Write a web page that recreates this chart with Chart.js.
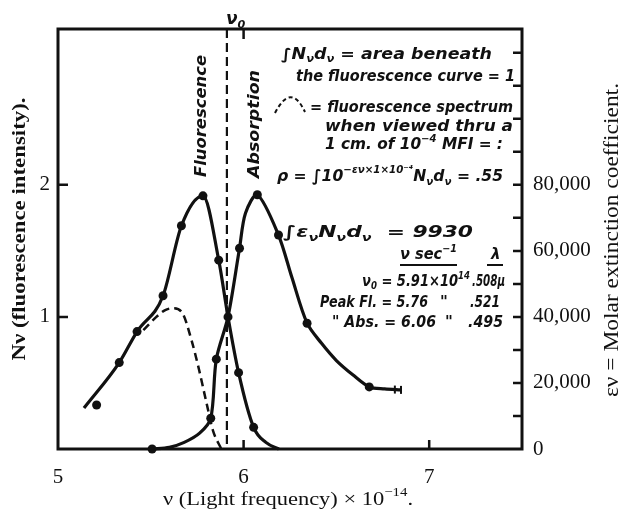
<!DOCTYPE html>
<html>
<head>
<meta charset="utf-8">
<script src="https://cdn.jsdelivr.net/npm/chart.js@4.4.1/dist/chart.umd.min.js"></script>
<style>
  html, body { margin: 0; padding: 0; background: #fff; }
  #wrap { width: 622px; height: 511px; }
</style>
</head>
<body>
<div id="wrap"><canvas id="myChart" width="622" height="511"></canvas></div>
<script>
// Valores (frequência em unidades de 10^14)
const flCurveX = [5.14, 5.33, 5.426, 5.566, 5.665, 5.781, 5.866, 5.916, 5.973, 6.054, 6.12, 6.19];
const flCurveY = [0.31, 0.654, 0.889, 1.16, 1.69, 1.917, 1.43, 1.0, 0.578, 0.164, 0.05, 0];
const flDotX = [5.208, 5.33, 5.426, 5.566, 5.665, 5.781, 5.866, 5.973, 6.054];
const flDotY = [0.333, 0.654, 0.889, 1.16, 1.69, 1.917, 1.43, 0.578, 0.164];

// absorção (coeficiente de extinção molar)
const abCurveX = [5.507, 5.60, 5.68, 5.763, 5.823, 5.853, 5.916, 5.978, 6.01, 6.074, 6.188, 6.26, 6.342, 6.42, 6.50, 6.59, 6.677, 6.76, 6.848];
const abCurveEps = [0, 500, 2000, 4800, 9300, 27200, 40000, 60800, 71400, 77000, 64800, 52000, 38100, 32000, 26800, 22400, 18800, 18200, 17900];
const abDotX = [5.507, 5.823, 5.853, 5.916, 5.978, 6.074, 6.188, 6.342, 6.677];
const abDotEps = [0, 9300, 27200, 40000, 60800, 77000, 64800, 38100, 18800];
const abEndX = [6.815, 6.848];
const abEndEps = [18000, 17900];

// espectro visto através de 1 cm de solução (tracejado)
const fxX = [5.46, 5.53, 5.575, 5.62, 5.67, 5.72, 5.76, 5.80, 5.835, 5.88];
const fxY = [0.90, 1.0, 1.05, 1.066, 1.03, 0.82, 0.60, 0.35, 0.14, 0];

const nu0 = 5.91;
const xMin = 5, xMax = 7.5;
const yMax = 3.18;
const epsPerN = 40000;
const xTickLabels = [5, 6, 7];
const xTickMarks = [6, 7];
const yTickLabels = [1, 2];
const epsTickLabels = [0, 20000, 40000, 60000, 80000];
const epsTickMarks = [10000, 20000, 30000, 40000, 50000, 60000, 70000, 80000, 90000, 100000, 110000, 120000];

const INK = '#111';
const serif = '"Liberation Serif", "DejaVu Serif", serif';
const hand = '"DejaVu Sans", "Liberation Sans", sans-serif';

function pts(xs, ys) {
  return xs.map((x, i) => ({ x: x, y: ys[i] }));
}

// texto com _{sub} e ^{sup}
function parseRich(str) {
  const parts = str.split(/(_\{[^}]*\}|\^\{[^}]*\})/);
  const segs = [];
  parts.forEach(p => {
    if (!p) return;
    if (p.startsWith('_{')) segs.push({ t: p.slice(2, -1), mode: 'sub' });
    else if (p.startsWith('^{')) segs.push({ t: p.slice(2, -1), mode: 'sup' });
    else segs.push({ t: p, mode: '' });
  });
  return segs;
}

function drawRich(ctx, str, x, y, o) {
  const size = o.size || 15;
  const style = o.style || 'italic bold';
  const fam = o.family || hand;
  const segs = parseRich(str);
  let total = 0;
  segs.forEach(s => {
    const sz = s.mode ? size * 0.66 : size;
    ctx.font = `${style} ${sz}px ${fam}`;
    s.w = ctx.measureText(s.t).width;
    s.sz = sz;
    total += s.w;
  });
  const sx = o.width ? o.width / total : 1;
  ctx.save();
  ctx.translate(x, y);
  ctx.scale(sx, 1);
  let cx = o.align === 'center' ? -total / 2 : 0;
  ctx.fillStyle = INK;
  ctx.textBaseline = 'middle';
  ctx.textAlign = 'left';
  segs.forEach(s => {
    ctx.font = `${style} ${s.sz}px ${fam}`;
    let dy = 0;
    if (s.mode === 'sub') dy = size * 0.3;
    if (s.mode === 'sup') dy = -size * 0.4;
    ctx.fillText(s.t, cx, dy);
    cx += s.w;
  });
  ctx.restore();
}

function drawRotated(ctx, str, cx, cy, o) {
  ctx.save();
  ctx.translate(cx, cy);
  ctx.rotate(-Math.PI / 2);
  drawRich(ctx, str, 0, 0, Object.assign({ align: 'center' }, o));
  ctx.restore();
}

const figurePlugin = {
  id: 'figure',
  afterDraw(chart) {
    const ctx = chart.ctx;
    const a = chart.chartArea;
    const xs = chart.scales.x, ys = chart.scales.y, es = chart.scales.y2;
    ctx.save();
    ctx.strokeStyle = INK;
    ctx.lineCap = 'butt';

    // moldura
    ctx.lineWidth = 3;
    ctx.strokeRect(a.left, a.top, a.right - a.left, a.bottom - a.top);

    // marcas dos eixos (para dentro)
    ctx.lineWidth = 2.5;
    ctx.beginPath();
    yTickLabels.forEach(v => {
      const py = ys.getPixelForValue(v);
      ctx.moveTo(a.left, py); ctx.lineTo(a.left + 10, py);
    });
    epsTickMarks.forEach(v => {
      const py = es.getPixelForValue(v);
      ctx.moveTo(a.right, py); ctx.lineTo(a.right - 9, py);
    });
    xTickMarks.forEach(v => {
      const px = xs.getPixelForValue(v);
      ctx.moveTo(px, a.bottom); ctx.lineTo(px, a.bottom - 9);
    });
    const p6 = xs.getPixelForValue(6);
    ctx.moveTo(p6, a.top); ctx.lineTo(p6, a.top + 10);
    ctx.stroke();

    // linha de nu0
    const pn = xs.getPixelForValue(nu0);
    ctx.lineWidth = 2.2;
    ctx.setLineDash([9, 5]);
    ctx.beginPath();
    ctx.moveTo(pn, a.top); ctx.lineTo(pn, a.bottom);
    ctx.stroke();

    // pequeno arco tracejado da legenda
    ctx.lineWidth = 2;
    ctx.setLineDash([4, 3]);
    ctx.beginPath();
    ctx.moveTo(275, 113);
    ctx.quadraticCurveTo(291, 82, 305, 112);
    ctx.stroke();
    ctx.setLineDash([]);

    // títulos dos eixos
    drawRich(ctx, '\u03bd (Light frequency) \u00d7 10^{\u221214}.', 288, 500,
      { size: 19, style: 'normal', family: serif, align: 'center', width: 250 });
    drawRotated(ctx, 'N\u03bd (fluorescence intensity).', 20, 229,
      { size: 19, style: 'bold', family: serif, width: 263 });
    drawRotated(ctx, '\u03b5\u03bd = Molar extinction coefficient.', 612, 240,
      { size: 22, style: 'normal', family: serif, width: 314 });

    // rótulos das curvas
    drawRotated(ctx, 'Fluorescence', 202, 116, { size: 16, width: 122 });
    drawRotated(ctx, 'Absorption', 255, 124, { size: 16, width: 108 });
    drawRich(ctx, '\u03bd_{0}', 226, 20, { size: 17 });

    // anotações
    drawRich(ctx, '\u222bN_{\u03bd}d_{\u03bd} = area beneath', 281, 55, { size: 15, width: 211 });
    drawRich(ctx, 'the fluorescence curve = 1', 296, 77, { size: 15, width: 219 });
    drawRich(ctx, '= fluorescence spectrum', 310, 108, { size: 15, width: 203 });
    drawRich(ctx, 'when viewed thru a', 325, 127, { size: 15, width: 188 });
    drawRich(ctx, '1 cm. of 10^{\u22124} MFI = :', 325, 145, { size: 15, width: 178 });
    drawRich(ctx, '\u03c1 = \u222b10^{\u2212\u03b5\u03bd\u00d71\u00d710\u207b\u2074}N_{\u03bd}d_{\u03bd} = .55', 277, 177, { size: 16, width: 226 });
    drawRich(ctx, '\u222b\u03b5_{\u03bd}N_{\u03bd}d_{\u03bd}  = 9930', 283, 233, { size: 16, width: 190 });
    drawRich(ctx, '\u03bd sec^{\u22121}', 400, 255, { size: 15, width: 57 });
    drawRich(ctx, '\u03bb', 491, 255, { size: 15 });
    ctx.lineWidth = 2;
    ctx.beginPath();
    ctx.moveTo(400, 265); ctx.lineTo(457, 265);
    ctx.moveTo(487, 265); ctx.lineTo(503, 265);
    ctx.stroke();
    drawRich(ctx, '\u03bd_{0} = 5.91\u00d710^{14}', 362, 282, { size: 15, width: 108 });
    drawRich(ctx, '.508\u03bc', 472, 282, { size: 15, width: 33 });
    drawRich(ctx, 'Peak Fl. = 5.76', 320, 303, { size: 15, width: 108 });
    drawRich(ctx, '"', 440, 303, { size: 15 });
    drawRich(ctx, '.521', 470, 303, { size: 15, width: 30 });
    drawRich(ctx, '" Abs. = 6.06', 332, 323, { size: 15, width: 104 });
    drawRich(ctx, '"', 445, 323, { size: 15 });
    drawRich(ctx, '.495', 468, 323, { size: 15, width: 35 });

    ctx.restore();
  }
};

const lineBase = {
  showLine: true,
  pointRadius: 0,
  borderColor: INK,
  borderWidth: 3.2,
  cubicInterpolationMode: 'monotone',
  clip: false
};
const dotBase = {
  showLine: false,
  pointRadius: 4.5,
  pointBackgroundColor: INK,
  pointBorderWidth: 0,
  clip: false
};

const ctx = document.getElementById('myChart').getContext('2d');
new Chart(ctx, {
  type: 'scatter',
  data: {
    datasets: [
      Object.assign({ label: 'Fluorescence', data: pts(flCurveX, flCurveY), yAxisID: 'y' }, lineBase),
      Object.assign({ label: 'Fluorescence pts', data: pts(flDotX, flDotY), yAxisID: 'y' }, dotBase),
      Object.assign({ label: 'Absorption', data: pts(abCurveX, abCurveEps), yAxisID: 'y2' }, lineBase,
        { cubicInterpolationMode: 'default', tension: 0.3 }),
      Object.assign({ label: 'Absorption pts', data: pts(abDotX, abDotEps), yAxisID: 'y2' }, dotBase),
      {
        label: 'Absorption end', data: pts(abEndX, abEndEps), yAxisID: 'y2',
        showLine: false, pointStyle: 'line', rotation: 90, pointRadius: 4,
        pointBorderColor: INK, pointBorderWidth: 2, clip: false
      },
      Object.assign({ label: 'Filtered', data: pts(fxX, fxY), yAxisID: 'y', borderDash: [8, 5] },
        lineBase, { borderWidth: 2.5 })
    ]
  },
  options: {
    responsive: false,
    animation: false,
    layout: { padding: { top: 29, left: 0, right: 0, bottom: 0 } },
    plugins: {
      legend: { display: false },
      tooltip: { enabled: false }
    },
    scales: {
      x: {
        type: 'linear', min: xMin, max: xMax,
        grid: { display: false, drawTicks: false },
        border: { display: false },
        afterBuildTicks: s => { s.ticks = xTickLabels.map(v => ({ value: v })); },
        afterFit: s => { s.height = 62; },
        ticks: { color: INK, padding: 16, font: { family: serif, size: 21 } }
      },
      y: {
        type: 'linear', position: 'left', min: 0, max: yMax,
        grid: { display: false, drawTicks: false },
        border: { display: false },
        afterBuildTicks: s => { s.ticks = yTickLabels.map(v => ({ value: v })); },
        afterFit: s => { s.width = 58; },
        ticks: { color: INK, padding: 8, font: { family: serif, size: 21 } }
      },
      y2: {
        type: 'linear', position: 'right', min: 0, max: yMax * epsPerN,
        grid: { display: false, drawTicks: false },
        border: { display: false },
        afterBuildTicks: s => { s.ticks = epsTickLabels.map(v => ({ value: v })); },
        afterFit: s => { s.width = 100; },
        ticks: {
          color: INK, padding: 11, font: { family: serif, size: 21 },
          callback: v => v.toLocaleString('en-US')
        }
      }
    }
  },
  plugins: [figurePlugin]
});
</script>
</body>
</html>
